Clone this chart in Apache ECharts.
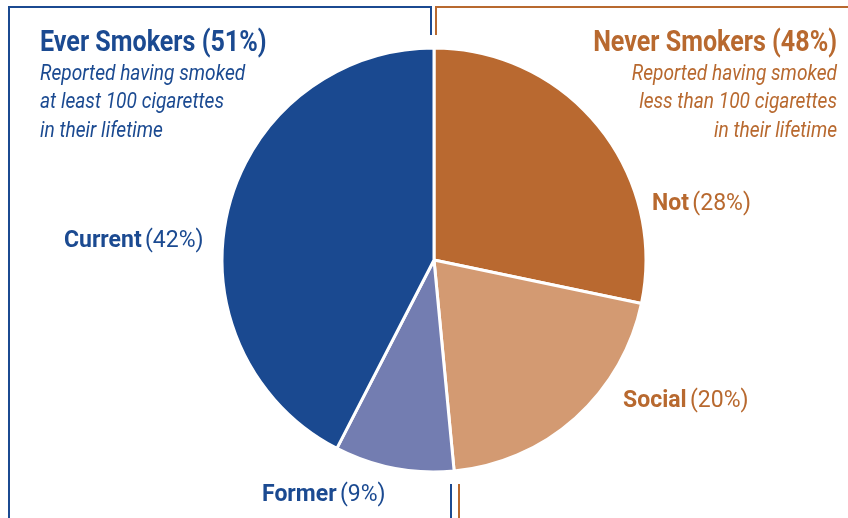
<!DOCTYPE html>
<html>
<head>
<meta charset="utf-8">
<script src="https://cdn.jsdelivr.net/npm/echarts@6/dist/echarts.min.js"></script>
<style>
html,body{margin:0;padding:0;background:#fff;}
#c{width:848px;height:518px;}
</style>
</head>
<body>
<div id="c"></div>
<script>
// ---- data ----
const categories = ['Not', 'Social', 'Former', 'Current'];
const values = [28, 20, 9, 42];
const groupTitles = ['Ever Smokers (51%)', 'Never Smokers (48%)'];
const groupNotes = [
  ['Reported having smoked', 'at least 100 cigarettes', 'in their lifetime'],
  ['Reported having smoked', 'less than 100 cigarettes', 'in their lifetime']
];

// ---- styles ----
const BLUE = '#1b4a91';
const ORANGE = '#b8692f';
const sliceColors = ['#b96930', '#d39a72', '#737db1', '#1a4990'];
const labelColors = [ORANGE, ORANGE, BLUE, BLUE];
const labelPos = [[652, 204], [623, 401], [262, 495], [64, 241]];
const FONT = 'Roboto, sans-serif';

const chart = echarts.init(document.getElementById('c'));

function txt(x, y, s, color, font, align, sx) {
  return {type:'text', x:x, y:y, scaleX:sx, scaleY:1,
    style:{x:0, y:0, text:s, fill:color, font:font, textAlign:align, textVerticalAlign:'middle'}};
}

const graphics = [
  {type:'polyline', shape:{points:[[9,518],[9,7],[431,7],[431,35]]}, style:{stroke:BLUE, lineWidth:2, fill:null}},
  {type:'polyline', shape:{points:[[436,35],[436,7],[850,7]]}, style:{stroke:ORANGE, lineWidth:2, fill:null}},
  {type:'line', shape:{x1:451, y1:484, x2:451, y2:520}, style:{stroke:BLUE, lineWidth:2}},
  {type:'line', shape:{x1:459, y1:484, x2:459, y2:520}, style:{stroke:ORANGE, lineWidth:2}},
  txt(40, 44, groupTitles[0], BLUE, 'bold 29px ' + FONT, 'left', 0.865),
  txt(837, 44, groupTitles[1], ORANGE, 'bold 29px ' + FONT, 'right', 0.865)
];
groupNotes[0].forEach((t, i) => graphics.push(txt(40, 74 + i*28.5, t, BLUE, 'italic 22px ' + FONT, 'left', 0.87)));
groupNotes[1].forEach((t, i) => graphics.push(txt(837, 74 + i*28.5, t, ORANGE, 'italic 22px ' + FONT, 'right', 0.87)));

chart.setOption({
  animation: false,
  graphic: graphics,
  series: [{
    type: 'pie',
    center: [434, 260],
    radius: 212,
    startAngle: 90,
    clockwise: true,
    data: categories.map((n, i) => ({
      name: n,
      value: values[i],
      itemStyle: {color: sliceColors[i]},
      label: {rich: {b: {color: labelColors[i]}, p: {color: labelColors[i]}}}
    })),
    itemStyle: {borderColor: '#fff', borderWidth: 3},
    label: {
      show: true,
      formatter: '{b|{b}} {p|({c}%)}',
      rich: {
        b: {fontFamily: FONT, fontWeight: 'bold', fontSize: 23},
        p: {fontFamily: FONT, fontWeight: 'normal', fontSize: 23}
      }
    },
    labelLine: {show: false},
    labelLayout: function (params) {
      const p = labelPos[params.dataIndex];
      return {x: p[0], y: p[1], align: 'left', verticalAlign: 'middle'};
    },
    emphasis: {disabled: true}
  }]
});
</script>
</body>
</html>
